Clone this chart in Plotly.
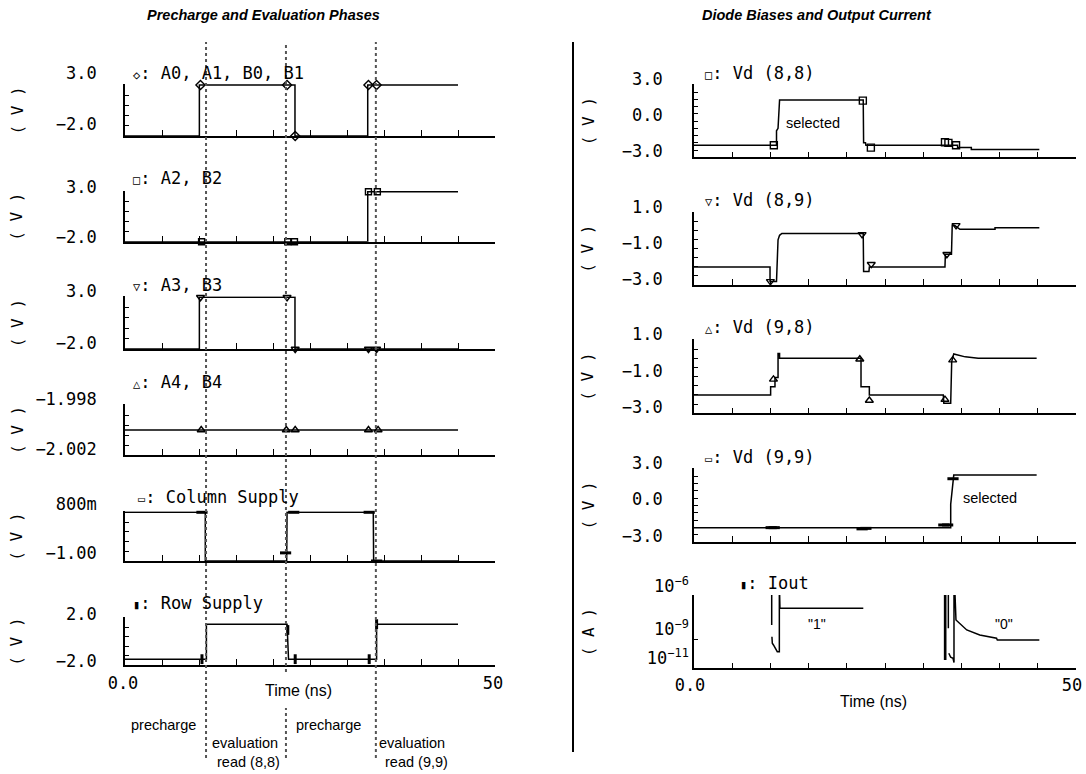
import plotly.graph_objects as go

W, H = 1086, 774
MONO = "DejaVu Sans Mono"
SANS = "Liberation Sans, Arial, sans-serif"

# ------------------------------------------------------------------ data
# time in ns, values in V (A for Iout)
A01_T = [0, 10.05, 10.05, 22.97, 22.97, 32.8, 32.8, 45]
A01_V = [-2, -2, 3, 3, -2, -2, 3, 3]
A01_MT = [10.2, 21.9, 23.0, 32.9, 34.0]
A01_MV = [3, 3, -2, 3, 3]

A2_T = [0, 32.8, 32.8, 45]
A2_V = [-2, -2, 3, 3]
A2_MT = [10.35, 22.0, 22.9, 32.9, 34.1]
A2_MV = [-2, -2, -2, 3, 3]

A3_T = [0, 10.05, 10.05, 22.97, 22.97, 45]
A3_V = [-2, -2, 3, 3, -2, -2]
A3_MT = [10.2, 21.9, 23.0, 32.9, 34.0]
A3_MV = [3, 3, -2, -2, -2]

A4_T = [0, 45]
A4_V = [-2.0, -2.0]
A4_MT = [10.3, 21.8, 23.0, 32.9, 34.2]
A4_MV = [-2.0, -2.0, -2.0, -2.0, -2.0]

COL_T = [0, 10.85, 10.85, 21.85, 21.9, 33.55, 33.6, 45]
COL_V = [0.8, 0.8, -1.0, -1.0, 0.8, 0.8, -1.0, -1.0]
COL_MT = [10.4, 21.7, 22.8, 33.0, 34.0]
COL_MV = [0.8, -0.7, 0.8, 0.8, -1.0]

ROW_T = [0, 11.0, 11.0, 21.9, 22.1, 34.0, 34.0, 45]
ROW_V = [-1.5, -1.5, 1.5, 1.5, -1.5, -1.5, 1.5, 1.5]
ROW_MT = [10.4, 22.0, 23.0, 33.0, 34.0]
ROW_MV = [-1.5, 1.0, -1.5, -1.5, 1.5]

VD88_T = [0, 10.8, 10.8, 11.0, 11.2, 22.15, 22.2, 22.45, 22.5, 33.8, 34.5, 34.5, 36.3, 36.3, 45.2]
VD88_V = [-2.0, -2.0, -0.8, -0.6, 1.75, 1.75, -1.8, -1.8, -2.0, -2.0, -2.0, -2.18, -2.18, -2.35, -2.35]
VD88_MT = [10.45, 22.1, 23.15, 32.85, 33.3, 34.3]
VD88_MV = [-2.0, 1.7, -2.2, -1.75, -1.8, -2.0]

VD89_T = [0, 9.95, 9.95, 10.8, 11.0, 11.2, 11.5, 22.15, 22.2, 22.9, 22.95, 32.85, 32.9, 33.7, 33.8, 34.1, 34.8, 39.4, 39.4, 45.2]
VD89_V = [-2.0, -2.0, -2.8, -2.8, -0.5, -0.25, -0.15, -0.15, -2.25, -2.25, -2.0, -2.0, -1.3, -1.3, 0.3, 0.3, 0.08, 0.08, 0.17, 0.17]
VD89_MT = [10.0, 22.0, 23.2, 33.1, 34.3]
VD89_MV = [-2.8, -0.2, -1.85, -1.3, 0.3]

VD98_T = [0, 10.03, 10.03, 10.6, 10.6, 11.0, 11.0, 11.2, 11.2, 21.86, 21.86, 22.95, 22.95, 32.63, 32.7, 33.6, 33.73, 34.0, 34.4, 35.5, 37.2, 44.85]
VD98_V = [-2.0, -2.0, -1.55, -1.55, -1.04, -1.04, 0.27, 0.27, 0.0, 0.0, -1.55, -1.55, -2.0, -2.0, -2.45, -2.45, -0.18, 0.24, 0.2, 0.08, 0.0, 0.0]
VD98_MT = [10.4, 21.7, 22.95, 32.85, 33.86]
VD98_MV = [-1.15, -0.05, -2.3, -2.25, -0.1]

VD99_T = [0, 33.6, 33.6, 33.9, 34.0, 44.85]
VD99_V = [-1.82, -1.82, 0.1, 2.2, 2.5, 2.5]
VD99_MT = [10.1, 10.5, 22.0, 22.5, 32.7, 33.2, 33.9]
VD99_MV = [-1.82, -1.82, -1.92, -1.88, -1.6, -1.6, 2.2]

IOUT_T = [10.17, 10.17, None, 10.2, 10.25, 10.4, 10.9, 11.17, 11.17, 11.25, 11.25, 22.16, None,
          32.8, 32.8, 32.95, 32.95, None, 33.29, 33.29, None,
          33.35, 33.6, 33.9, 34.03, 34.03, 34.1, 34.29, 35.7, 37.4, 39.6, 39.7, 45.2]
IOUT_V = [1e-5, 1e-8, None, 1.5e-9, 5.4e-10, 4.1e-10, 1.4e-10, 1.4e-10, 1e-5, 1e-5, 1.4e-7, 1.4e-7, None,
          1e-5, 4.2e-11, 4.2e-11, 1e-5, None, 1e-5, 5.9e-9, None,
          1.1e-10, 5.8e-11, 4.9e-11, 2.5e-11, 1e-5, 1e-5, 2.2e-8, 4.5e-9, 2.0e-9, 1.2e-9, 9.1e-10, 9.1e-10]

PHASE_T = [10.95, 21.75, 33.9]

X_TICKS = [0, 5, 10, 15, 20, 25, 30, 35, 40, 45, 50]
X_TICKTEXT = ["0.0", "", "", "", "", "", "", "", "", "", "50"]

# ------------------------------------------------------------------ layout helpers
def fx(p):
    return p / W


def fy(p):
    return 1 - p / H


LEFT_X = (125, 495)
RIGHT_X = (694, 1076)

# each panel: side, top px, bottom px, y lo, y hi, tickvals, ticktext, label shift, log
PANELS = [
    ("L", 85, 136, -2, 3, [-2, -1, 0, 1, 2, 3], ["−2.0", "", "", "", "", "3.0"], 12, False),
    ("L", 191.7, 241.7, -2, 3, [-2, -1, 0, 1, 2, 3], ["−2.0", "", "", "", "", "3.0"], 5, False),
    ("L", 297.3, 349, -2, 3, [-2, -1, 0, 1, 2, 3], ["−2.0", "", "", "", "", "3.0"], 6, False),
    ("L", 405, 455, -2.002, -1.998, [-2.002, -2.0012, -2.0004, -1.9996, -1.9988, -1.998],
     ["−2.002", "", "", "", "", "−1.998"], 6, False),
    ("L", 512.3, 561, -1.0, 0.8, [-1.0, -0.64, -0.28, 0.08, 0.44, 0.8], ["−1.00", "", "", "", "", "800m"], 8, False),
    ("L", 618.3, 665, -2, 2, [-2, -1.2, -0.4, 0.4, 1.2, 2], ["−2.0", "", "", "", "", "2.0"], 4, False),
    ("R", 85, 157.3, -3, 3, [-3, -2.4, -1.8, -1.2, -0.6, 0, 0.6, 1.2, 1.8, 2.4, 3],
     ["−3.0", "", "", "", "", "0.0", "", "", "", "", "3.0"], 6, False),
    ("R", 212.7, 285, -3, 1, [-3, -2.5, -2, -1.5, -1, -0.5, 0, 0.5, 1],
     ["−3.0", "", "", "", "−1.0", "", "", "", "1.0"], 6, False),
    ("R", 340, 413.3, -3, 1, [-3, -2.5, -2, -1.5, -1, -0.5, 0, 0.5, 1],
     ["−3.0", "", "", "", "−1.0", "", "", "", "1.0"], 6, False),
    ("R", 469, 542, -3, 3, [-3, -2.4, -1.8, -1.2, -0.6, 0, 0.6, 1.2, 1.8, 2.4, 3],
     ["−3.0", "", "", "", "", "0.0", "", "", "", "", "3.0"], 6, False),
    ("R", 596, 668.3, -11, -6, [1e-11, 1e-9, 1e-6],
     ["10<sup>−11</sup>", "10<sup>−9</sup>", "10<sup>−6</sup>"], 10, True),
]

fig = go.Figure()
layout = {}
for i, (side, top, bot, lo, hi, tv, tt, shift, islog) in enumerate(PANELS, start=1):
    xs = LEFT_X if side == "L" else RIGHT_X
    sfx = "" if i == 1 else str(i)
    padpx = 1.0
    span = hi - lo
    hi_r = hi + span * padpx / (bot - top)
    bottom_panel = i in (6, 11)
    layout["xaxis" + sfx] = dict(
        domain=[fx(xs[0]), fx(xs[1])], range=[0, 50], anchor="y" + sfx,
        automargin=False,
        showline=True, linecolor="black", linewidth=1.6, showgrid=False, zeroline=False,
        ticks="inside", ticklen=6, tickwidth=1.4, tickcolor="black",
        tickmode="array", tickvals=X_TICKS, ticktext=X_TICKTEXT,
        showticklabels=bottom_panel, tickfont=dict(family=MONO, size=17, color="black"),
        ticklabelstandoff=2 if side == "L" else 0,
        ticklabelshift=-2 if side == "L" else -4,
        ticklabeloverflow="allow",
        fixedrange=True,
    )
    yax = dict(
        domain=[fy(bot), fy(top - padpx)], anchor="x" + sfx,
        automargin=False,
        showline=True, linecolor="black", linewidth=1.6, showgrid=False, zeroline=False,
        ticks="inside", ticklen=4, tickwidth=1.4, tickcolor="black",
        tickmode="array", tickvals=tv, ticktext=tt,
        tickfont=dict(family=MONO, size=17, color="black"),
        ticklabelshift=-shift,
        ticklabelstandoff=(23 if side == "L" else (0 if islog else 26)),
        ticklabeloverflow="allow",
        fixedrange=True,
    )
    if islog:
        yax["type"] = "log"
        yax["range"] = [lo, hi + 5 * padpx / (bot - top)]
    else:
        yax["range"] = [lo, hi_r]
    layout["yaxis" + sfx] = yax

SERIES = [
    (1, A01_T, A01_V, A01_MT, A01_MV, "diamond-open", 7),
    (2, A2_T, A2_V, A2_MT, A2_MV, "square-open", 6),
    (3, A3_T, A3_V, A3_MT, A3_MV, "triangle-down-open", 7),
    (4, A4_T, A4_V, A4_MT, A4_MV, "triangle-up-open", 7),
    (5, COL_T, COL_V, COL_MT, COL_MV, "line-ew", 8),
    (6, ROW_T, ROW_V, ROW_MT, ROW_MV, "line-ns", 7),
    (7, VD88_T, VD88_V, VD88_MT, VD88_MV, "square-open", 7),
    (8, VD89_T, VD89_V, VD89_MT, VD89_MV, "triangle-down-open", 7),
    (9, VD98_T, VD98_V, VD98_MT, VD98_MV, "triangle-up-open", 7),
    (10, VD99_T, VD99_V, VD99_MT, VD99_MV, "line-ew", 8),
    (11, IOUT_T, IOUT_V, None, None, None, 0),
]

for idx, t, v, mt, mv, sym, ms in SERIES:
    sfx = "" if idx == 1 else str(idx)
    fig.add_trace(go.Scatter(
        x=t, y=v, mode="lines", line=dict(color="black", width=1.5),
        xaxis="x" + sfx, yaxis="y" + sfx, showlegend=False, hoverinfo="skip",
        connectgaps=False,
    ))
    if mt is not None:
        thick = 3 if sym.startswith("line") else 1.4
        fig.add_trace(go.Scatter(
            x=mt, y=mv, mode="markers",
            marker=dict(symbol=sym, size=ms, color="black",
                        line=dict(color="black", width=thick)),
            xaxis="x" + sfx, yaxis="y" + sfx, showlegend=False, hoverinfo="skip",
            cliponaxis=False,
        ))

# ------------------------------------------------------------------ shapes
shapes = []
for k, t in enumerate(PHASE_T):
    spans = [(42, 672), (708, 758)] if k == 1 else [(42, 758)]
    for y0, y1 in spans:
        shapes.append(dict(type="line", xref="x6", yref="paper", x0=t, x1=t,
                           y0=fy(y1), y1=fy(y0),
                           line=dict(color="#555555", width=2, dash="dot")))
shapes.append(dict(type="line", xref="paper", yref="paper", x0=fx(573), x1=fx(573),
                   y0=fy(752), y1=fy(42), line=dict(color="black", width=2)))

# ------------------------------------------------------------------ annotations
ann = []


def text(x, y, s, size=14, family=SANS, xanchor="center", angle=0, color="black"):
    ann.append(dict(x=fx(x), y=fy(y), xref="paper", yref="paper", text=s, showarrow=False,
                    xanchor=xanchor, yanchor="middle", textangle=angle,
                    font=dict(family=family, size=size, color=color)))


text(263.5, 15, "<b><i>Precharge and Evaluation Phases</i></b>", size=14.5)
text(817, 15, "<b><i>Diode Biases and Output Current</i></b>", size=14.5)

G = "<span style='font-size:12px'>%s</span>"
LEGENDS = [
    (131, 72.7, G % "◇" + ": A0, A1, B0, B1"),
    (131, 178.3, G % "□" + ": A2, B2"),
    (131, 285, G % "▽" + ": A3, B3"),
    (131, 381.7, G % "△" + ": A4, B4"),
    (136, 497, G % "▭" + ": Column Supply"),
    (131, 603.3, G % "▮" + ": Row Supply"),
    (703, 72.7, G % "□" + ": Vd (8,8)"),
    (703, 200, G % "▽" + ": Vd (8,9)"),
    (703, 327, G % "△" + ": Vd (9,8)"),
    (703, 457, G % "▭" + ": Vd (9,9)"),
    (738, 583.3, G % "▮" + ": Iout"),
]
for x, y, s in LEGENDS:
    text(x, y, s, size=17, family=MONO, xanchor="left")

for i, (side, top, bot, *_rest) in enumerate(PANELS, start=1):
    xpos = 17 if side == "L" else 588
    label = "( A )" if i == 11 else "( V )"
    text(xpos, (top + bot) / 2, label, size=16, family=MONO, angle=-90)

text(298, 690, "Time (ns)", size=16)
text(873, 701, "Time (ns)", size=16)
text(163, 725, "precharge", size=14.5)
text(244.5, 743, "evaluation", size=14.5)
text(248, 762, "read (8,8)", size=14.5)
text(328.5, 725, "precharge", size=14.5)
text(412, 743, "evaluation", size=14.5)
text(416, 762, "read (9,9)", size=14.5)
text(813, 123, "selected", size=14.5)
text(990, 498, "selected", size=14.5)
text(816.7, 624, "\"1\"", size=14)
text(1004, 624, "\"0\"", size=14)

fig.update_layout(
    width=W, height=H, margin=dict(l=0, r=0, t=0, b=0, autoexpand=False),
    paper_bgcolor="white", plot_bgcolor="white", showlegend=False,
    shapes=shapes, annotations=ann, **layout,
)

fig.write_html("out.html")
